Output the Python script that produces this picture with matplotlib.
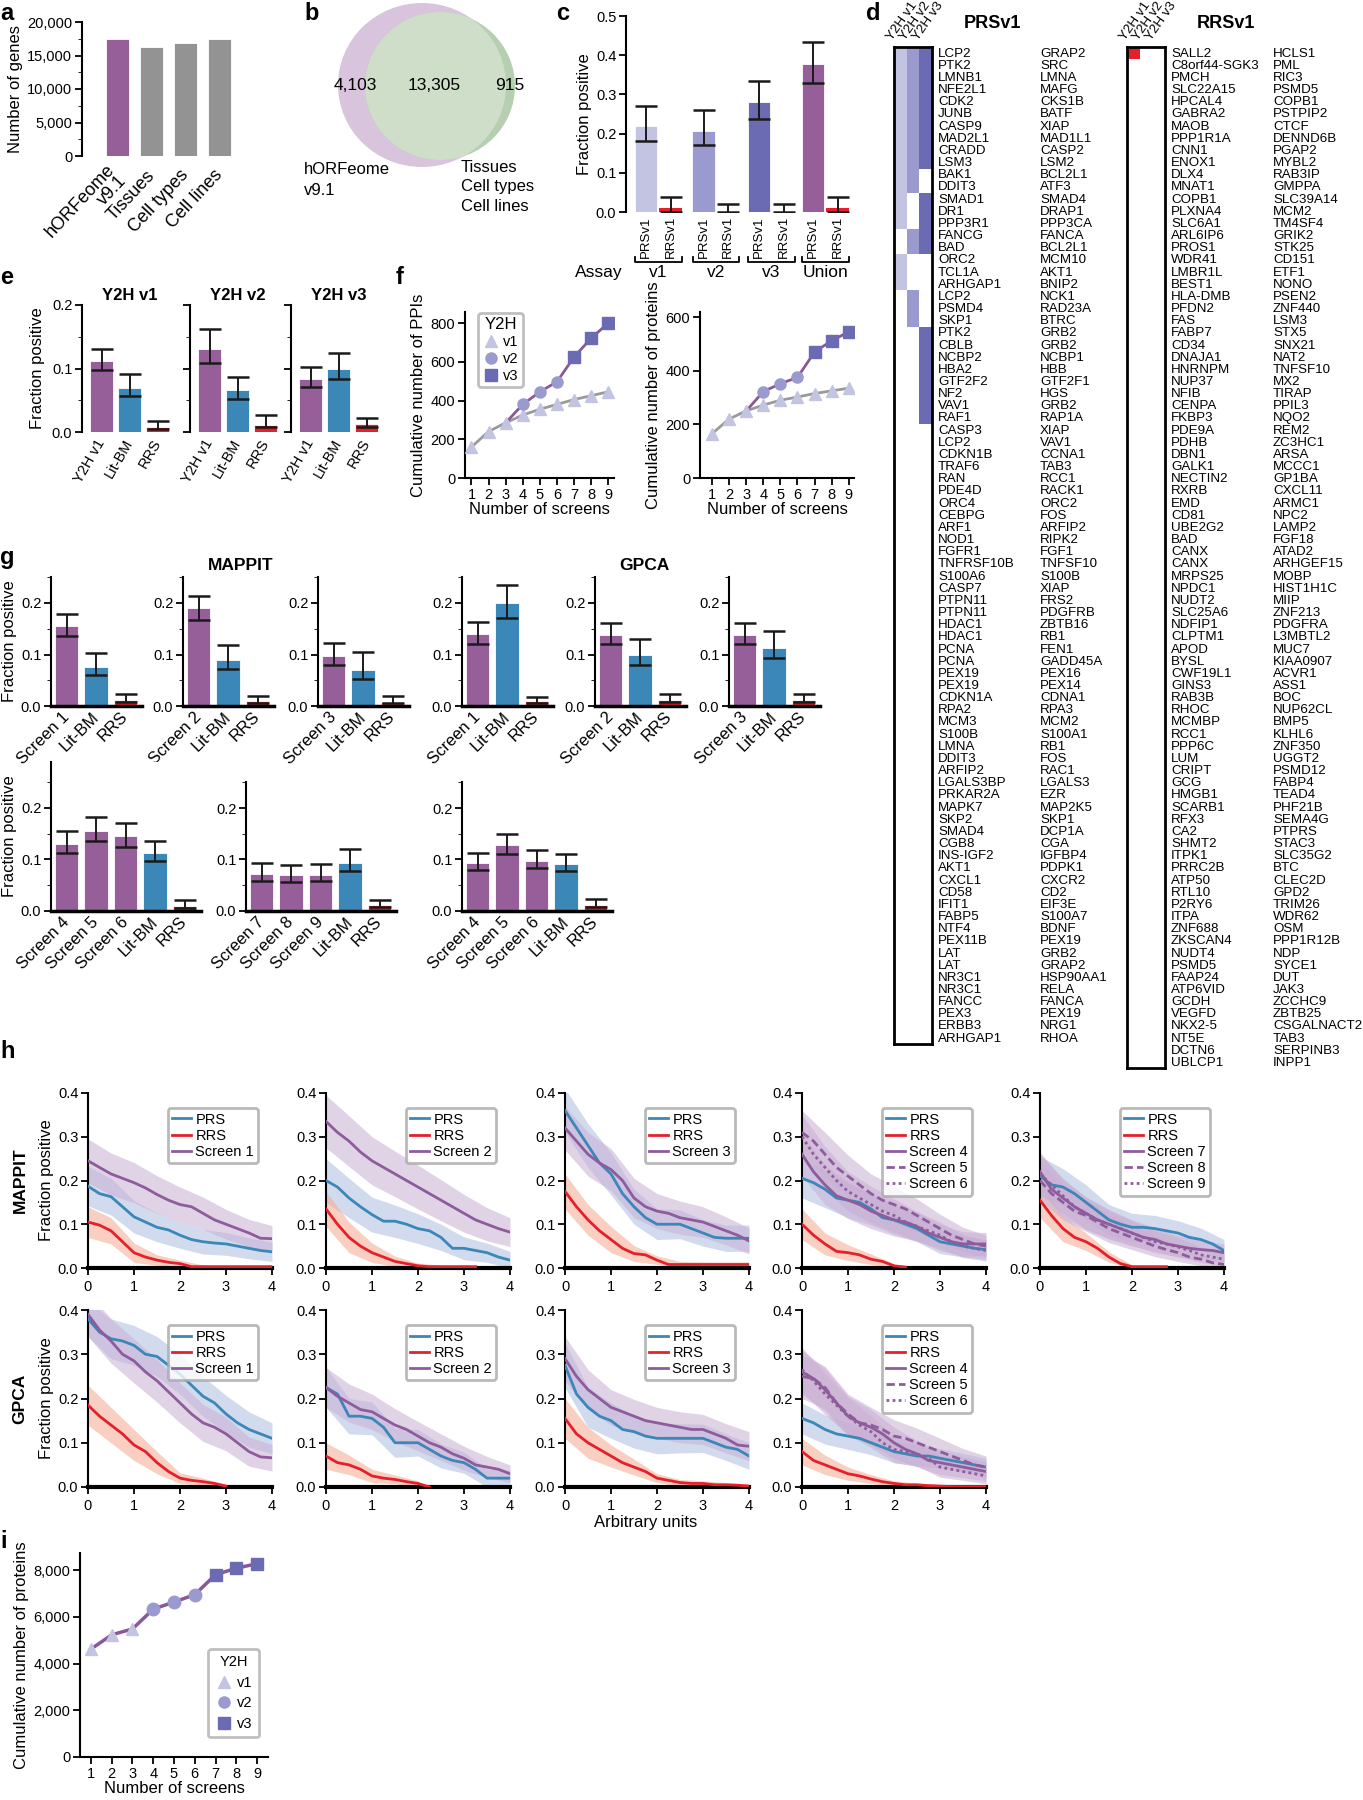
import numpy as np
import matplotlib
matplotlib.use('Agg')
import matplotlib.pyplot as plt
from matplotlib.patches import Ellipse
from matplotlib.colors import ListedColormap
from matplotlib import font_manager
from matplotlib.transforms import blended_transform_factory
from matplotlib.ticker import MultipleLocator, FuncFormatter
from matplotlib.lines import Line2D

W, H = 1363, 1800
names = {f.name for f in font_manager.fontManager.ttflist}
NARROW = 'Liberation Sans Narrow' if 'Liberation Sans Narrow' in names else 'Liberation Sans'
plt.rcParams['font.family'] = 'Liberation Sans'
plt.rcParams['axes.linewidth'] = 1.5
plt.rcParams['xtick.major.width'] = 1.3
plt.rcParams['ytick.major.width'] = 1.3

PURPLE = '#975f99'
GRAY = '#939393'
BLUE = '#3a87b8'
RED = '#e5202a'
V1C, V2C, V3C = '#c3c3e2', '#9a9acf', '#6b6bb3'

# ---------------- data ----------------
a_cats = ['hORFeome\nv9.1', 'Tissues', 'Cell types', 'Cell lines']
a_genes = [17408, 16200, 16900, 17400]

b_counts = ['4,103', '13,305', '915']

c_groups = ['v1', 'v2', 'v3', 'Union']
c_prs = [0.22, 0.207, 0.28, 0.378]
c_prs_lo = [0.18, 0.17, 0.236, 0.328]
c_prs_hi = [0.27, 0.26, 0.335, 0.434]
c_rrs = [0.01, 0.0, 0.0, 0.01]
c_rrs_lo = [0.0, 0.0, 0.0, 0.0]
c_rrs_hi = [0.038, 0.02, 0.02, 0.038]

prs_col1 = ['LCP2', 'PTK2', 'LMNB1', 'NFE2L1', 'CDK2', 'JUNB', 'CASP9', 'MAD2L1', 'CRADD', 'LSM3',
            'BAK1', 'DDIT3', 'SMAD1', 'DR1', 'PPP3R1', 'FANCG', 'BAD', 'ORC2', 'TCL1A', 'ARHGAP1',
            'LCP2', 'PSMD4', 'SKP1', 'PTK2', 'CBLB', 'NCBP2', 'HBA2', 'GTF2F2', 'NF2', 'VAV1',
            'RAF1', 'CASP3', 'LCP2', 'CDKN1B', 'TRAF6', 'RAN', 'PDE4D', 'ORC4', 'CEBPG', 'ARF1',
            'NOD1', 'FGFR1', 'TNFRSF10B', 'S100A6', 'CASP7', 'PTPN11', 'PTPN11', 'HDAC1', 'HDAC1', 'PCNA',
            'PCNA', 'PEX19', 'PEX19', 'CDKN1A', 'RPA2', 'MCM3', 'S100B', 'LMNA', 'DDIT3', 'ARFIP2',
            'LGALS3BP', 'PRKAR2A', 'MAPK7', 'SKP2', 'SMAD4', 'CGB8', 'INS-IGF2', 'AKT1', 'CXCL1', 'CD58',
            'IFIT1', 'FABP5', 'NTF4', 'PEX11B', 'LAT', 'LAT', 'NR3C1', 'NR3C1', 'FANCC', 'PEX3',
            'ERBB3', 'ARHGAP1']
prs_col2 = ['GRAP2', 'SRC', 'LMNA', 'MAFG', 'CKS1B', 'BATF', 'XIAP', 'MAD1L1', 'CASP2', 'LSM2',
            'BCL2L1', 'ATF3', 'SMAD4', 'DRAP1', 'PPP3CA', 'FANCA', 'BCL2L1', 'MCM10', 'AKT1', 'BNIP2',
            'NCK1', 'RAD23A', 'BTRC', 'GRB2', 'GRB2', 'NCBP1', 'HBB', 'GTF2F1', 'HGS', 'GRB2',
            'RAP1A', 'XIAP', 'VAV1', 'CCNA1', 'TAB3', 'RCC1', 'RACK1', 'ORC2', 'FOS', 'ARFIP2',
            'RIPK2', 'FGF1', 'TNFSF10', 'S100B', 'XIAP', 'FRS2', 'PDGFRB', 'ZBTB16', 'RB1', 'FEN1',
            'GADD45A', 'PEX16', 'PEX14', 'CDNA1', 'RPA3', 'MCM2', 'S100A1', 'RB1', 'FOS', 'RAC1',
            'LGALS3', 'EZR', 'MAP2K5', 'SKP1', 'DCP1A', 'CGA', 'IGFBP4', 'PDPK1', 'CXCR2', 'CD2',
            'EIF3E', 'S100A7', 'BDNF', 'PEX19', 'GRB2', 'GRAP2', 'HSP90AA1', 'RELA', 'FANCA', 'PEX19',
            'NRG1', 'RHOA']
# rows (0-based) positive in each Y2H version
prs_v1_rows = list(range(0, 15)) + [17, 18, 19]
prs_v2_rows = list(range(0, 12)) + [15, 16, 20, 21, 22]
prs_v3_rows = list(range(0, 10)) + list(range(12, 17)) + list(range(23, 31))

rrs_col1 = ['SALL2', 'C8orf44-SGK3', 'PMCH', 'SLC22A15', 'HPCAL4', 'GABRA2', 'MAOB', 'PPP1R1A', 'CNN1', 'ENOX1',
            'DLX4', 'MNAT1', 'COPB1', 'PLXNA4', 'SLC6A1', 'ARL6IP6', 'PROS1', 'WDR41', 'LMBR1L', 'BEST1',
            'HLA-DMB', 'PFDN2', 'FAS', 'FABP7', 'CD34', 'DNAJA1', 'HNRNPM', 'NUP37', 'NFIB', 'CENPA',
            'FKBP3', 'PDE9A', 'PDHB', 'DBN1', 'GALK1', 'NECTIN2', 'RXRB', 'EMD', 'CD81', 'UBE2G2',
            'BAD', 'CANX', 'CANX', 'MRPS25', 'NPDC1', 'NUDT2', 'SLC25A6', 'NDFIP1', 'CLPTM1', 'APOD',
            'BYSL', 'CWF19L1', 'GINS3', 'RAB3B', 'RHOC', 'MCMBP', 'RCC1', 'PPP6C', 'LUM', 'CRIPT',
            'GCG', 'HMGB1', 'SCARB1', 'RFX3', 'CA2', 'SHMT2', 'ITPK1', 'PRRC2B', 'ATP50', 'RTL10',
            'P2RY6', 'ITPA', 'ZNF688', 'ZKSCAN4', 'NUDT4', 'PSMD5', 'FAAP24', 'ATP6VID', 'GCDH', 'VEGFD',
            'NKX2-5', 'NT5E', 'DCTN6', 'UBLCP1']
rrs_col2 = ['HCLS1', 'PML', 'RIC3', 'PSMD5', 'COPB1', 'PSTPIP2', 'CTCF', 'DENND6B', 'PGAP2', 'MYBL2',
            'RAB3IP', 'GMPPA', 'SLC39A14', 'MCM2', 'TM4SF4', 'GRIK2', 'STK25', 'CD151', 'ETF1', 'NONO',
            'PSEN2', 'ZNF440', 'LSM3', 'STX5', 'SNX21', 'NAT2', 'TNFSF10', 'MX2', 'TIRAP', 'PPIL3',
            'NQO2', 'REM2', 'ZC3HC1', 'ARSA', 'MCCC1', 'GP1BA', 'CXCL11', 'ARMC1', 'NPC2', 'LAMP2',
            'FGF18', 'ATAD2', 'ARHGEF15', 'MOBP', 'HIST1H1C', 'MIIP', 'ZNF213', 'PDGFRA', 'L3MBTL2', 'MUC7',
            'KIAA0907', 'ACVR1', 'ASS1', 'BOC', 'NUP62CL', 'BMP5', 'KLHL6', 'ZNF350', 'UGGT2', 'PSMD12',
            'FABP4', 'TEAD4', 'PHF21B', 'SEMA4G', 'PTPRS', 'STAC3', 'SLC35G2', 'BTC', 'CLEC2D', 'GPD2',
            'TRIM26', 'WDR62', 'OSM', 'PPP1R12B', 'NDP', 'SYCE1', 'DUT', 'JAK3', 'ZCCHC9', 'ZBTB25',
            'CSGALNACT2', 'TAB3', 'SERPINB3', 'INPP1']
rrs_v1_rows = [0]
rrs_v2_rows = []
rrs_v3_rows = []

e_titles = ['Y2H v1', 'Y2H v2', 'Y2H v3']
e_cats = ['Y2H v1', 'Lit-BM', 'RRS']
e_vals = [[0.112, 0.070, 0.008], [0.130, 0.066, 0.011], [0.084, 0.100, 0.012]]
e_lo = [[0.098, 0.056, 0.005], [0.108, 0.052, 0.008], [0.071, 0.083, 0.008]]
e_hi = [[0.130, 0.092, 0.017], [0.162, 0.087, 0.026], [0.103, 0.124, 0.022]]

f_screens = [1, 2, 3, 4, 5, 6, 7, 8, 9]
f_version = ['v1', 'v1', 'v1', 'v2', 'v2', 'v2', 'v3', 'v3', 'v3']
f_ppi_v1 = [160, 240, 285, 325, 355, 380, 405, 425, 445]
f_ppi_all = [np.nan, np.nan, 285, 380, 445, 497, 625, 722, 800]
f_prot_v1 = [165, 220, 250, 272, 290, 302, 315, 325, 335]
f_prot_all = [np.nan, np.nan, 250, 322, 352, 375, 470, 512, 545]

g_top_cats = [['Screen 1', 'Lit-BM', 'RRS'], ['Screen 2', 'Lit-BM', 'RRS'], ['Screen 3', 'Lit-BM', 'RRS'],
              ['Screen 1', 'Lit-BM', 'RRS'], ['Screen 2', 'Lit-BM', 'RRS'], ['Screen 3', 'Lit-BM', 'RRS']]
g_top_vals = [[0.155, 0.076, 0.012], [0.190, 0.090, 0.009], [0.098, 0.070, 0.008],
              [0.140, 0.200, 0.009], [0.138, 0.100, 0.012], [0.138, 0.112, 0.012]]
g_top_lo = [[0.135, 0.060, 0.008], [0.167, 0.072, 0.006], [0.080, 0.052, 0.005],
            [0.120, 0.170, 0.006], [0.120, 0.080, 0.008], [0.120, 0.093, 0.008]]
g_top_hi = [[0.178, 0.102, 0.023], [0.214, 0.118, 0.019], [0.122, 0.104, 0.019],
            [0.163, 0.235, 0.018], [0.162, 0.130, 0.023], [0.162, 0.145, 0.023]]
g_bot_cats = [['Screen 4', 'Screen 5', 'Screen 6', 'Lit-BM', 'RRS'],
              ['Screen 7', 'Screen 8', 'Screen 9', 'Lit-BM', 'RRS'],
              ['Screen 4', 'Screen 5', 'Screen 6', 'Lit-BM', 'RRS']]
g_bot_vals = [[0.130, 0.155, 0.145, 0.113, 0.010], [0.072, 0.069, 0.070, 0.094, 0.012],
              [0.093, 0.128, 0.098, 0.092, 0.012]]
g_bot_lo = [[0.112, 0.135, 0.125, 0.097, 0.006], [0.058, 0.056, 0.058, 0.077, 0.008],
            [0.080, 0.110, 0.083, 0.078, 0.008]]
g_bot_hi = [[0.155, 0.182, 0.170, 0.135, 0.021], [0.093, 0.089, 0.091, 0.120, 0.021],
            [0.113, 0.150, 0.118, 0.110, 0.023]]

h_x = [0, 0.25, 0.5, 0.75, 1, 1.25, 1.5, 1.75, 2, 2.25, 2.5, 2.75, 3, 3.25, 3.5, 3.75, 4]
h_xb = [0, 0.5, 1, 1.5, 2, 2.5, 3, 3.5, 4]
nan = np.nan

m1_prs = [0.187, 0.17, 0.163, 0.14, 0.117, 0.105, 0.093, 0.087, 0.075, 0.065, 0.06, 0.057, 0.055, 0.05, 0.045, 0.04, 0.037]
m1_s = [0.245, 0.23, 0.215, 0.205, 0.195, 0.183, 0.168, 0.155, 0.145, 0.14, 0.125, 0.11, 0.1, 0.09, 0.08, 0.068, 0.067]
m1_rrs = [0.105, 0.098, 0.085, 0.06, 0.035, 0.025, 0.018, 0.013, 0.01, 0.003, 0.003, 0.003, 0.003, 0.003, 0.003, 0.003, 0.003]
m1_prs_ci = [0.045, 0.042, 0.037, 0.033, 0.03, 0.028, 0.026, 0.024, 0.022]
m1_s_ci = [0.05, 0.048, 0.046, 0.043, 0.04, 0.037, 0.034, 0.031, 0.03]
m1_rrs_ci = [0.035, 0.03, 0.022, 0.012, 0.008, 0.004, 0.003, 0.003, 0.003]

m2_prs = [0.2, 0.185, 0.16, 0.14, 0.122, 0.107, 0.107, 0.1, 0.09, 0.085, 0.07, 0.045, 0.045, 0.04, 0.035, 0.025, 0.018]
m2_s = [0.335, 0.31, 0.29, 0.265, 0.245, 0.23, 0.215, 0.2, 0.185, 0.17, 0.155, 0.14, 0.125, 0.11, 0.1, 0.09, 0.082]
m2_rrs = [0.135, 0.1, 0.07, 0.05, 0.035, 0.025, 0.015, 0.01, 0.005, 0.003, 0.003, 0.003, 0.003, 0.003, nan, nan, nan]
m2_prs_ci = [0.05, 0.045, 0.04, 0.037, 0.034, 0.03, 0.026, 0.022, 0.02]
m2_s_ci = [0.06, 0.058, 0.055, 0.052, 0.05, 0.047, 0.043, 0.038, 0.033]
m2_rrs_ci = [0.04, 0.035, 0.022, 0.012, 0.006, 0.004, 0.003, nan, nan]

m3_prs = [0.36, 0.32, 0.28, 0.24, 0.215, 0.17, 0.14, 0.115, 0.1, 0.1, 0.1, 0.09, 0.08, 0.07, 0.068, 0.068, 0.068]
m3_s = [0.32, 0.29, 0.26, 0.24, 0.225, 0.2, 0.16, 0.14, 0.13, 0.125, 0.115, 0.11, 0.105, 0.095, 0.085, 0.075, 0.062]
m3_rrs = [0.175, 0.14, 0.11, 0.085, 0.065, 0.045, 0.033, 0.03, 0.018, 0.008, 0.008, 0.008, 0.008, 0.008, 0.008, 0.008, 0.008]
m3_prs_ci = [0.05, 0.05, 0.048, 0.04, 0.035, 0.033, 0.03, 0.03, 0.03]
m3_s_ci = [0.05, 0.05, 0.048, 0.045, 0.04, 0.038, 0.035, 0.032, 0.03]
m3_rrs_ci = [0.04, 0.035, 0.03, 0.018, 0.01, 0.007, 0.006, 0.006, 0.006]

m4_prs = [0.205, 0.195, 0.18, 0.16, 0.155, 0.15, 0.135, 0.115, 0.11, 0.1, 0.09, 0.075, 0.06, 0.055, 0.05, 0.045, 0.042]
m4_s4 = [0.26, 0.22, 0.19, 0.165, 0.155, 0.145, 0.13, 0.12, 0.11, 0.105, 0.095, 0.08, 0.07, 0.06, 0.055, 0.055, 0.055]
m4_s5 = [0.31, 0.29, 0.26, 0.23, 0.21, 0.19, 0.17, 0.155, 0.145, 0.135, 0.12, 0.105, 0.09, 0.075, 0.065, 0.055, 0.05]
m4_s6 = [0.3, 0.26, 0.23, 0.2, 0.175, 0.16, 0.145, 0.13, 0.12, 0.105, 0.095, 0.085, 0.075, 0.06, 0.05, 0.045, 0.04]
m4_rrs = [0.1, 0.075, 0.055, 0.038, 0.035, 0.03, 0.02, 0.015, 0.005, 0.002, nan, nan, nan, nan, nan, nan, nan]
m4_prs_ci = [0.045, 0.042, 0.04, 0.037, 0.033, 0.03, 0.027, 0.025, 0.022]
m4_s4_ci = [0.05, 0.045, 0.042, 0.04, 0.037, 0.033, 0.03, 0.028, 0.026]
m4_s5_ci = [0.05, 0.05, 0.048, 0.045, 0.042, 0.038, 0.033, 0.028, 0.025]
m4_s6_ci = [0.05, 0.048, 0.045, 0.042, 0.038, 0.034, 0.03, 0.026, 0.024]
m4_rrs_ci = [0.035, 0.025, 0.018, 0.012, 0.005, nan, nan, nan, nan]

m5_prs = [0.21, 0.19, 0.185, 0.17, 0.15, 0.13, 0.11, 0.1, 0.093, 0.093, 0.09, 0.085, 0.08, 0.07, 0.065, 0.055, 0.04]
m5_s7 = [0.22, 0.18, 0.16, 0.14, 0.125, 0.11, 0.1, 0.09, 0.08, 0.07, 0.065, 0.055, 0.05, 0.045, 0.042, 0.04, 0.035]
m5_s8 = [0.2, 0.17, 0.15, 0.13, 0.12, 0.105, 0.09, 0.08, 0.07, 0.06, 0.05, 0.042, 0.035, 0.025, 0.02, 0.012, 0.008]
m5_s9 = [0.215, 0.19, 0.165, 0.14, 0.125, 0.11, 0.1, 0.09, 0.08, 0.07, 0.06, 0.055, 0.048, 0.04, 0.03, 0.025, 0.02]
m5_rrs = [0.155, 0.12, 0.09, 0.07, 0.06, 0.045, 0.025, 0.01, 0.003, 0.003, 0.003, 0.003, nan, nan, nan, nan, nan]
m5_prs_ci = [0.045, 0.042, 0.04, 0.035, 0.032, 0.03, 0.028, 0.026, 0.025]
m5_s7_ci = [0.045, 0.042, 0.038, 0.034, 0.03, 0.027, 0.025, 0.022, 0.02]
m5_s8_ci = [0.045, 0.04, 0.036, 0.032, 0.028, 0.024, 0.02, 0.015, 0.01]
m5_s9_ci = [0.045, 0.04, 0.036, 0.032, 0.028, 0.025, 0.022, 0.018, 0.015]
m5_rrs_ci = [0.04, 0.03, 0.02, 0.012, 0.004, 0.003, nan, nan, nan]

p1_prs = [0.38, 0.35, 0.335, 0.33, 0.32, 0.3, 0.295, 0.275, 0.255, 0.23, 0.205, 0.19, 0.165, 0.145, 0.13, 0.12, 0.11]
p1_s = [0.39, 0.355, 0.33, 0.3, 0.285, 0.26, 0.24, 0.215, 0.19, 0.165, 0.145, 0.135, 0.12, 0.1, 0.08, 0.068, 0.066]
p1_rrs = [0.185, 0.16, 0.14, 0.12, 0.095, 0.08, 0.055, 0.035, 0.02, 0.015, 0.012, 0.008, 0.002, nan, nan, nan, nan]
p1_prs_ci = [0.04, 0.045, 0.045, 0.045, 0.045, 0.045, 0.042, 0.04, 0.035]
p1_s_ci = [0.05, 0.05, 0.05, 0.048, 0.045, 0.042, 0.038, 0.033, 0.03]
p1_rrs_ci = [0.045, 0.04, 0.035, 0.025, 0.012, 0.008, 0.004, nan, nan]

p2_prs = [0.225, 0.21, 0.16, 0.16, 0.155, 0.135, 0.1, 0.1, 0.1, 0.085, 0.07, 0.06, 0.055, 0.04, 0.02, 0.02, 0.02]
p2_s = [0.225, 0.205, 0.19, 0.175, 0.17, 0.155, 0.14, 0.13, 0.115, 0.1, 0.09, 0.075, 0.065, 0.05, 0.045, 0.04, 0.03]
p2_rrs = [0.07, 0.055, 0.05, 0.04, 0.025, 0.02, 0.017, 0.012, 0.008, 0.0, nan, nan, nan, nan, nan, nan, nan]
p2_prs_ci = [0.045, 0.04, 0.037, 0.033, 0.03, 0.027, 0.024, 0.02, 0.018]
p2_s_ci = [0.045, 0.043, 0.04, 0.037, 0.033, 0.03, 0.027, 0.024, 0.02]
p2_rrs_ci = [0.03, 0.022, 0.015, 0.01, 0.006, nan, nan, nan, nan]

p3_prs = [0.275, 0.21, 0.18, 0.16, 0.15, 0.13, 0.125, 0.115, 0.11, 0.11, 0.11, 0.11, 0.11, 0.1, 0.09, 0.085, 0.07]
p3_s = [0.29, 0.25, 0.22, 0.2, 0.18, 0.17, 0.16, 0.15, 0.145, 0.14, 0.135, 0.13, 0.13, 0.12, 0.11, 0.095, 0.092]
p3_rrs = [0.155, 0.12, 0.1, 0.085, 0.07, 0.055, 0.045, 0.035, 0.02, 0.015, 0.01, 0.008, 0.008, 0.005, 0.005, 0.004, 0.002]
p3_prs_ci = [0.05, 0.045, 0.04, 0.037, 0.035, 0.033, 0.032, 0.03, 0.03]
p3_s_ci = [0.05, 0.045, 0.04, 0.038, 0.035, 0.035, 0.034, 0.033, 0.033]
p3_rrs_ci = [0.045, 0.035, 0.025, 0.018, 0.01, 0.007, 0.006, 0.005, 0.004]

p4_prs = [0.155, 0.145, 0.13, 0.12, 0.115, 0.11, 0.1, 0.09, 0.08, 0.075, 0.07, 0.07, 0.065, 0.06, 0.055, 0.05, 0.045]
p4_s4 = [0.26, 0.245, 0.22, 0.19, 0.16, 0.145, 0.135, 0.12, 0.1, 0.085, 0.075, 0.06, 0.055, 0.05, 0.045, 0.04, 0.035]
p4_s5 = [0.25, 0.245, 0.225, 0.19, 0.165, 0.145, 0.14, 0.13, 0.115, 0.11, 0.1, 0.09, 0.08, 0.07, 0.06, 0.05, 0.045]
p4_s6 = [0.265, 0.24, 0.21, 0.185, 0.16, 0.14, 0.125, 0.1, 0.085, 0.08, 0.075, 0.065, 0.045, 0.04, 0.035, 0.03, 0.025]
p4_rrs = [0.08, 0.06, 0.05, 0.04, 0.03, 0.025, 0.018, 0.012, 0.008, 0.005, 0.005, 0.003, 0.002, 0.001, 0.001, 0.001, 0.001]
p4_prs_ci = [0.035, 0.033, 0.03, 0.027, 0.025, 0.023, 0.022, 0.021, 0.02]
p4_s4_ci = [0.05, 0.048, 0.045, 0.04, 0.035, 0.03, 0.027, 0.024, 0.022]
p4_s5_ci = [0.05, 0.048, 0.045, 0.04, 0.037, 0.033, 0.03, 0.027, 0.025]
p4_s6_ci = [0.05, 0.046, 0.042, 0.036, 0.03, 0.027, 0.023, 0.02, 0.018]
p4_rrs_ci = [0.03, 0.022, 0.015, 0.01, 0.006, 0.004, 0.003, 0.002, 0.002]

i_proteins = [4620, 5230, 5480, 6330, 6630, 6950, 7800, 8080, 8270]

# ---------------- figure ----------------
fig = plt.figure(figsize=(W / 100, H / 100), dpi=100)


def px(x0, y0, x1, y1):
    return [x0 / W, 1 - y1 / H, (x1 - x0) / W, (y1 - y0) / H]


def letter(x, y, s):
    fig.text(x / W, 1 - y / H, s, fontsize=17, fontweight='bold', va='top', ha='left')


def clean(ax, bottom=False):
    ax.spines['top'].set_visible(False)
    ax.spines['right'].set_visible(False)
    if not bottom:
        ax.spines['bottom'].set_visible(False)
    ax.tick_params(axis='y', direction='out', length=5, labelsize=10.5, pad=2)
    ax.tick_params(axis='x', length=0)
    for lab in ax.get_yticklabels():
        lab.set_fontfamily(NARROW)


def ebar(ax, x, v, lo, hi, cap=8):
    v = np.array(v); lo = np.array(lo); hi = np.array(hi)
    ax.errorbar(x, v, yerr=[v - lo, hi - v], fmt='none', ecolor='#1a1a1a',
                elinewidth=1.4, capsize=cap, capthick=1.8, zorder=4)


# ---- a ----
letter(0, 2, 'a')
ax = fig.add_axes(px(82, 22, 235, 156))
xa = np.arange(len(a_cats))
ax.bar(xa, a_genes, width=0.69, color=[PURPLE, GRAY, GRAY, GRAY], edgecolor='white', linewidth=0.6)
ax.set_ylim(0, 20000)
ax.set_xlim(-1.05, 3.45)
ax.yaxis.set_major_locator(MultipleLocator(5000))
ax.yaxis.set_minor_locator(MultipleLocator(2500))
ax.yaxis.set_major_formatter(FuncFormatter(lambda v, p: f'{int(v):,}'))
clean(ax)
ax.tick_params(axis='y', which='minor', length=3)
ax.set_xticks(xa)
ax.set_xticklabels(a_cats, rotation=47, ha='right', va='center', rotation_mode='anchor', fontsize=13,
                   multialignment='right', linespacing=1.0)
ax.tick_params(axis='x', pad=12)
ax.set_ylabel('Number of genes', fontsize=12, labelpad=3)

# ---- b ----
letter(304, 2, 'b')
ax = fig.add_axes(px(300, 0, 560, 215))
ax.set_xlim(300, 560)
ax.set_ylim(215, 0)
ax.axis('off')
purple_e = Ellipse((422, 85), 168, 164, facecolor='#d8c4dc', edgecolor='none')
green_e = Ellipse((440, 86), 150, 148, facecolor='#b7cfb1', edgecolor='none')
over_e = Ellipse((440, 86), 150, 148, facecolor='#cfdec8', edgecolor='none')
ax.add_patch(purple_e)
ax.add_patch(green_e)
ax.add_patch(over_e)
over_e.set_clip_path(purple_e)
for xt, s in zip([355, 434, 510], b_counts):
    ax.text(xt, 86, s, ha='center', va='center', fontsize=12.5, fontfamily=NARROW)
ax.text(304, 180, 'hORFeome\nv9.1', ha='left', va='center', fontsize=12, fontfamily=NARROW, linespacing=1.45)
ax.text(461, 187, 'Tissues\nCell types\nCell lines', ha='left', va='center', fontsize=12,
        fontfamily=NARROW, linespacing=1.4)

# ---- c ----
letter(556, 2, 'c')
ax = fig.add_axes(px(626, 16, 851, 212))
pos_p = np.array([0, 2.35, 4.6, 6.8])
pos_r = pos_p + 1
ax.bar(pos_p, c_prs, width=0.92, color=[V1C, V2C, V3C, PURPLE], edgecolor='white', linewidth=0.6)
ax.bar(pos_r, c_rrs, width=0.92, color=RED)
ebar(ax, pos_p, c_prs, c_prs_lo, c_prs_hi, cap=8)
ebar(ax, pos_r, c_rrs, c_rrs_lo, c_rrs_hi, cap=8)
ax.set_ylim(0, 0.5)
ax.set_xlim(-0.82, 8.35)
ax.yaxis.set_major_locator(MultipleLocator(0.1))
ax.yaxis.set_major_formatter(FuncFormatter(lambda v, p: f'{v:.1f}'))
clean(ax)
ticks = np.sort(np.concatenate([pos_p, pos_r]))
ax.set_xticks(ticks)
ax.set_xticklabels(['PRSv1', 'RRSv1'] * 4, rotation=90, fontsize=9.5)
ax.tick_params(axis='x', pad=3)
ax.set_ylabel('Fraction positive', fontsize=12, labelpad=3)
tr = blended_transform_factory(ax.transData, ax.transAxes)
for p, g in zip(pos_p, c_groups):
    ax.plot([p - 0.45, p - 0.45, p + 1.45, p + 1.45], [-0.23, -0.255, -0.255, -0.23], color='k',
            lw=1.3, transform=tr, clip_on=False)
    ax.text(p + 0.5, -0.27, g, transform=tr, ha='center', va='top', fontsize=12.5, fontfamily=NARROW)
ax.text(-0.95, -0.27, 'Assay', transform=tr, ha='right', va='top', fontsize=12.5, fontfamily=NARROW)

# ---- d ----
letter(866, 2, 'd')
cmap = ListedColormap(['white', V1C, V2C, V3C, RED])


def gene_panel(x0, top, x1, col1, col2, rows, title, tx, col2x, red=False):
    n = len(col1)
    rh = 12.16
    ax = fig.add_axes(px(x0, top, x1, top + n * rh))
    m = np.zeros((n, 3))
    for j, rr in enumerate(rows):
        for r in rr:
            m[r, j] = 4 if red else j + 1
    ax.pcolormesh(np.arange(4), np.arange(n + 1), m, cmap=cmap, vmin=0, vmax=4)
    ax.set_xlim(0, 3)
    ax.set_ylim(n, 0)
    ax.set_xticks([])
    ax.set_yticks([])
    for s in ax.spines.values():
        s.set_linewidth(2)
    trd = blended_transform_factory(ax.transAxes, ax.transData)
    wpx = x1 - x0
    for i, (g1, g2) in enumerate(zip(col1, col2)):
        ax.text((tx - x0) / wpx, i + 0.55, g1, transform=trd, va='center', ha='left', fontsize=9.6,
                clip_on=False)
        ax.text((col2x - x0) / wpx, i + 0.55, g2, transform=trd, va='center', ha='left', fontsize=9.6,
                clip_on=False)
    for j, lab in enumerate(['Y2H v1', 'Y2H v2', 'Y2H v3']):
        ax.text(j + 0.05, -0.35, lab, rotation=55, ha='left', va='bottom', rotation_mode='anchor',
                fontsize=9.6, clip_on=False)
    fig.text((x1 + 32) / W, 1 - 24 / H, title, fontsize=13, fontweight='bold', va='center', ha='left')


gene_panel(894, 47, 932, prs_col1, prs_col2, [prs_v1_rows, prs_v2_rows, prs_v3_rows], 'PRSv1', 938, 1040)
gene_panel(1127, 47, 1165, rrs_col1, rrs_col2, [rrs_v1_rows, rrs_v2_rows, rrs_v3_rows], 'RRSv1', 1171,
           1273, red=True)

# ---- e ----
letter(0, 266, 'e')
e_left = [82, 190, 291]
for k in range(3):
    ax = fig.add_axes(px(e_left[k], 305, e_left[k] + 90, 432))
    xe = np.arange(3)
    ax.bar(xe, e_vals[k], width=0.82, color=[PURPLE, BLUE, RED], edgecolor='white', linewidth=0.6)
    ebar(ax, xe, e_vals[k], e_lo[k], e_hi[k], cap=8)
    ax.set_ylim(0, 0.2)
    ax.set_xlim(-0.7, 2.5)
    ax.yaxis.set_major_locator(MultipleLocator(0.1))
    ax.yaxis.set_minor_locator(MultipleLocator(0.05))
    ax.yaxis.set_major_formatter(FuncFormatter(lambda v, p: f'{v:.1f}'))
    clean(ax)
    ax.tick_params(axis='y', which='minor', length=3)
    if k > 0:
        ax.set_yticklabels([])
    else:
        ax.set_ylabel('Fraction positive', fontsize=12, labelpad=5)
    ax.set_xticks(xe)
    ax.set_xticklabels(e_cats, rotation=60, ha='right', va='center', rotation_mode='anchor', fontsize=10.5)
    ax.tick_params(axis='x', pad=6)
    fig.text((e_left[k] + 0.7 * 28 + 28) / W, 1 - 295 / H, e_titles[k], fontsize=12, fontweight='bold',
             ha='center', va='center')

# ---- f ----
letter(396, 266, 'f')
mk = {'v1': ('^', V1C), 'v2': ('o', V2C), 'v3': ('s', V3C)}
for k, (v1, allv, ylim, ylab, left, xl) in enumerate([
        (f_ppi_v1, f_ppi_all, 857, 'Cumulative number of PPIs', 465, (0.62, 9.35)),
        (f_prot_v1, f_prot_all, 619, 'Cumulative number of proteins', 700, (0.3, 9.3))]):
    right = left + (xl[1] - xl[0]) * 17.1
    ax = fig.add_axes(px(left, 312, right, 478))
    ax.plot(f_screens, v1, color='#9a9a9a', lw=2, zorder=2)
    ax.plot(f_screens, allv, color='#8a5898', lw=2, zorder=3)
    for s, val in zip(f_screens, v1):
        ax.plot(s, val, marker='^', color=V1C, ms=8, ls='none', zorder=4)
    for s, val, ver in zip(f_screens, allv, f_version):
        if ver != 'v1':
            m, c = mk[ver]
            ax.plot(s, val, marker=m, color=c, ms=8, ls='none', zorder=5)
    ax.set_ylim(0, ylim)
    ax.set_xlim(*xl)
    ax.yaxis.set_major_locator(MultipleLocator(200))
    ax.set_xticks(f_screens)
    clean(ax, bottom=True)
    ax.tick_params(axis='x', length=5, labelsize=10.5, pad=2)
    ax.set_ylabel(ylab, fontsize=12, labelpad=3)
    ax.set_xlabel('Number of screens', fontsize=12, labelpad=0)
    if k == 0:
        hs = [Line2D([], [], marker=mk[v][0], color=mk[v][1], ls='none', ms=8) for v in ['v1', 'v2', 'v3']]
        lg = ax.legend(hs, ['v1', 'v2', 'v3'], title='Y2H', loc='upper left', bbox_to_anchor=(0.04, 1.04),
                       fontsize=10.5, title_fontsize=12, handletextpad=0.2, borderpad=0.3, labelspacing=0.2,
                       fancybox=True, edgecolor='#b0b0b0', handlelength=1.2)
        lg.get_frame().set_linewidth(2)

# ---- g ----
letter(0, 546, 'g')
fig.text(241 / W, 1 - 565 / H, 'MAPPIT', fontsize=12.5, fontweight='bold', ha='center', va='center')
fig.text(644 / W, 1 - 565 / H, 'GPCA', fontsize=12.5, fontweight='bold', ha='center', va='center')


def g_axes(x0, ybase, ytop_val, cats, vals, lo, hi, first):
    pxper = 103 / 0.2
    n = len(cats)
    w = 29.5 * (n + 0.08)
    ax = fig.add_axes(px(x0, ybase - ytop_val * pxper, x0 + w, ybase))
    xg = np.arange(n)
    cols = [PURPLE] * (n - 2) + [BLUE, RED]
    ax.bar(xg, vals, width=0.8, color=cols, edgecolor='white', linewidth=0.6)
    ebar(ax, xg, vals, lo, hi, cap=8)
    ax.set_ylim(0, ytop_val)
    ax.set_xlim(-0.53, n - 0.45)
    ax.yaxis.set_major_locator(MultipleLocator(0.1))
    ax.yaxis.set_minor_locator(MultipleLocator(0.05))
    ax.yaxis.set_major_formatter(FuncFormatter(lambda v, p: f'{v:.1f}'))
    clean(ax, bottom=True)
    ax.spines['bottom'].set_linewidth(2.5)
    ax.tick_params(axis='y', which='minor', length=3)
    ax.set_xticks(xg)
    ax.set_xticklabels(cats, rotation=45, ha='right', va='center', rotation_mode='anchor', fontsize=12)
    ax.tick_params(axis='x', pad=6)
    if first:
        ax.set_ylabel('Fraction positive', fontsize=12, labelpad=3)
    return ax


g_top_left = [51, 183, 318, 462, 595, 729]
for k in range(6):
    g_axes(g_top_left[k], 706, 0.25, g_top_cats[k], g_top_vals[k], g_top_lo[k], g_top_hi[k], k == 0)
g_bot_left = [51, 246, 462]
g_bot_top = [0.29, 0.25, 0.25]
for k in range(3):
    g_axes(g_bot_left[k], 911, g_bot_top[k], g_bot_cats[k], g_bot_vals[k], g_bot_lo[k], g_bot_hi[k], k == 0)

# ---- h ----
letter(0, 1040, 'h')
styles = {'PRS': (BLUE, '-', '#aebfe0'), 'RRS': (RED, '-', '#f3a98f'),
          'S': ('#8e5c9c', '-', '#c9afd3'), 'S2': ('#8e5c9c', (0, (3, 1.5)), '#c9afd3'),
          'S3': ('#8e5c9c', (0, (1, 1.2)), '#c9afd3')}

h_panels = [
    ('MAPPIT', [('PRS', 'PRS', m1_prs, m1_prs_ci), ('RRS', 'RRS', m1_rrs, m1_rrs_ci), ('S', 'Screen 1', m1_s, m1_s_ci)]),
    ('MAPPIT', [('PRS', 'PRS', m2_prs, m2_prs_ci), ('RRS', 'RRS', m2_rrs, m2_rrs_ci), ('S', 'Screen 2', m2_s, m2_s_ci)]),
    ('MAPPIT', [('PRS', 'PRS', m3_prs, m3_prs_ci), ('RRS', 'RRS', m3_rrs, m3_rrs_ci), ('S', 'Screen 3', m3_s, m3_s_ci)]),
    ('MAPPIT', [('PRS', 'PRS', m4_prs, m4_prs_ci), ('RRS', 'RRS', m4_rrs, m4_rrs_ci), ('S', 'Screen 4', m4_s4, m4_s4_ci),
                ('S2', 'Screen 5', m4_s5, m4_s5_ci), ('S3', 'Screen 6', m4_s6, m4_s6_ci)]),
    ('MAPPIT', [('PRS', 'PRS', m5_prs, m5_prs_ci), ('RRS', 'RRS', m5_rrs, m5_rrs_ci), ('S', 'Screen 7', m5_s7, m5_s7_ci),
                ('S2', 'Screen 8', m5_s8, m5_s8_ci), ('S3', 'Screen 9', m5_s9, m5_s9_ci)]),
    ('GPCA', [('PRS', 'PRS', p1_prs, p1_prs_ci), ('RRS', 'RRS', p1_rrs, p1_rrs_ci), ('S', 'Screen 1', p1_s, p1_s_ci)]),
    ('GPCA', [('PRS', 'PRS', p2_prs, p2_prs_ci), ('RRS', 'RRS', p2_rrs, p2_rrs_ci), ('S', 'Screen 2', p2_s, p2_s_ci)]),
    ('GPCA', [('PRS', 'PRS', p3_prs, p3_prs_ci), ('RRS', 'RRS', p3_rrs, p3_rrs_ci), ('S', 'Screen 3', p3_s, p3_s_ci)]),
    ('GPCA', [('PRS', 'PRS', p4_prs, p4_prs_ci), ('RRS', 'RRS', p4_rrs, p4_rrs_ci), ('S', 'Screen 4', p4_s4, p4_s4_ci),
              ('S2', 'Screen 5', p4_s5, p4_s5_ci), ('S3', 'Screen 6', p4_s6, p4_s6_ci)]),
]
h_left = [88, 326, 565, 802, 1040]
row_y = {'MAPPIT': (1093, 1268), 'GPCA': (1310, 1487)}
idx = {'MAPPIT': 0, 'GPCA': 0}
for assay, curves in h_panels:
    k = idx[assay]
    idx[assay] += 1
    yt, yb = row_y[assay]
    ax = fig.add_axes(px(h_left[k], yt, h_left[k] + 184, yb))
    hx = np.array(h_x)
    hxb = np.array(h_xb)
    handles = []
    for key, lab, yv, ci in curves:
        col, ls, band = styles[key]
        yv = np.array(yv, dtype=float)
        yb9 = yv[::2]
        ci = np.array(ci, dtype=float)
        ax.fill_between(hxb, np.clip(yb9 - ci, 0, None), yb9 + ci, color=band, alpha=0.55, lw=0, zorder=1)
    for key, lab, yv, ci in curves:
        col, ls, band = styles[key]
        ln, = ax.plot(hx, yv, color=col, ls=ls, lw=2, zorder=3)
        handles.append((ln, lab))
    ax.set_xlim(0, 4)
    ax.set_ylim(0, 0.4)
    ax.yaxis.set_major_locator(MultipleLocator(0.1))
    ax.yaxis.set_major_formatter(FuncFormatter(lambda v, p: f'{v:.1f}'))
    clean(ax, bottom=True)
    ax.spines['bottom'].set_linewidth(3)
    ax.tick_params(axis='x', length=5, labelsize=10.5)
    ax.set_xticks([0, 1, 2, 3, 4])
    for lab in ax.get_xticklabels():
        lab.set_fontfamily(NARROW)
    lg = ax.legend([h[0] for h in handles], [h[1] for h in handles], loc='upper right',
                   bbox_to_anchor=(0.965, 0.955), prop={'family': NARROW, 'size': 10.5},
                   handlelength=1.3, handletextpad=0.3, borderpad=0.3, labelspacing=0.15,
                   fancybox=True, edgecolor='#a8a8a8')
    lg.get_frame().set_linewidth(2)
    if k == 0:
        ax.set_ylabel('Fraction positive', fontsize=12, labelpad=3)
        ax.text(-0.37, 0.5, assay, transform=ax.transAxes, rotation=90, fontsize=12.5, fontweight='bold',
                ha='center', va='center')
fig.text(646 / W, 1 - 1522 / H, 'Arbitrary units', fontsize=12, ha='center', va='center', fontfamily=NARROW)

# ---- i ----
letter(0, 1530, 'i')
ax = fig.add_axes(px(80, 1553, 268, 1757))
ax.plot(f_screens, i_proteins, color='#8a5898', lw=2.5, zorder=2)
for s, val, ver in zip(f_screens, i_proteins, f_version):
    m, c = mk[ver]
    ax.plot(s, val, marker=m, color=c, ms=9, ls='none', zorder=3)
ax.set_ylim(0, 8730)
ax.set_xlim(0.47, 9.53)
ax.yaxis.set_major_locator(MultipleLocator(2000))
ax.yaxis.set_major_formatter(FuncFormatter(lambda v, p: f'{int(v):,}'))
ax.set_xticks(f_screens)
clean(ax, bottom=True)
for lab in ax.get_yticklabels():
    lab.set_fontfamily('Liberation Sans')
ax.tick_params(axis='x', length=5, labelsize=10.5, pad=2)
ax.set_ylabel('Cumulative number of proteins', fontsize=12, labelpad=3)
ax.set_xlabel('Number of screens', fontsize=12, labelpad=0)
hs = [Line2D([], [], marker=mk[v][0], color=mk[v][1], ls='none', ms=8) for v in ['v1', 'v2', 'v3']]
lg = ax.legend(hs, ['v1', 'v2', 'v3'], title='Y2H', loc='lower right', bbox_to_anchor=(0.99, 0.06),
               fontsize=10.5, title_fontsize=10.5, handletextpad=0.3, borderpad=0.45, labelspacing=0.45,
               fancybox=True, edgecolor='#b0b0b0', handlelength=1.2)
lg.get_frame().set_linewidth(2)

fig.savefig('out.png', dpi=100)
